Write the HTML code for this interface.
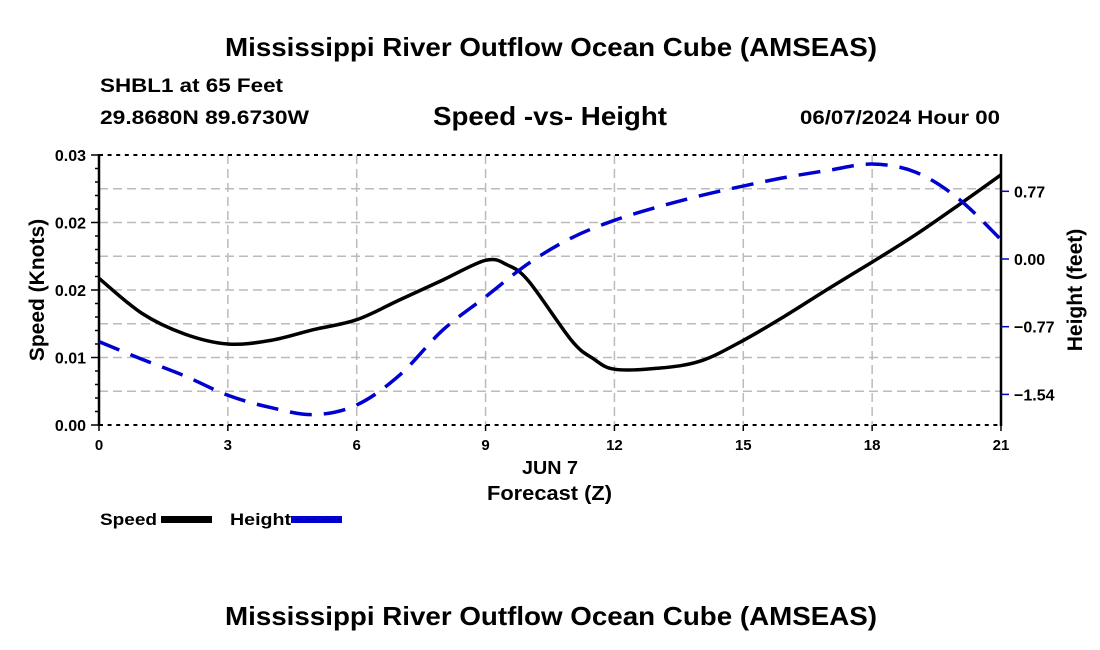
<!DOCTYPE html>
<html><head><meta charset="utf-8"><style>
html,body{margin:0;padding:0;background:#fff;}
svg{display:block;font-family:"Liberation Sans",sans-serif;font-weight:bold;}
</style></head><body>
<svg id="chart" width="1100" height="650" viewBox="0 0 1100 650">
<text x="225" y="56" font-size="26" textLength="652" lengthAdjust="spacingAndGlyphs">Mississippi River Outflow Ocean Cube (AMSEAS)</text>
<text x="100" y="92" font-size="19" textLength="183" lengthAdjust="spacingAndGlyphs">SHBL1 at 65 Feet</text>
<text x="100" y="124" font-size="19" textLength="209" lengthAdjust="spacingAndGlyphs">29.8680N  89.6730W</text>
<text x="433" y="125" font-size="26" textLength="234" lengthAdjust="spacingAndGlyphs">Speed -vs- Height</text>
<text x="800" y="124" font-size="19" textLength="200" lengthAdjust="spacingAndGlyphs">06/07/2024 Hour 00</text>
<g id="grid"></g>
<g id="axes"></g>
<g id="series"></g>
<text x="522" y="474" font-size="18" textLength="56" lengthAdjust="spacingAndGlyphs">JUN 7</text>
<text x="487" y="500" font-size="20" textLength="125" lengthAdjust="spacingAndGlyphs">Forecast (Z)</text>
<text transform="translate(44,290) rotate(-90)" font-size="21" text-anchor="middle">Speed (Knots)</text>
<text transform="translate(1082,290) rotate(-90)" font-size="21" text-anchor="middle">Height (feet)</text>
<g>
<text x="100" y="525" font-size="17" textLength="57" lengthAdjust="spacingAndGlyphs">Speed</text>
<rect x="161" y="516" width="51" height="7" fill="#000"/>
<text x="230" y="525" font-size="17" textLength="61" lengthAdjust="spacingAndGlyphs">Height</text>
<rect x="291" y="516" width="51" height="7" fill="#0000d0"/>
<line x1="292" y1="519.5" x2="341" y2="519.5" stroke="#000" stroke-width="1" stroke-dasharray="9,6"/>
</g>
<text x="225" y="625" font-size="26" textLength="652" lengthAdjust="spacingAndGlyphs">Mississippi River Outflow Ocean Cube (AMSEAS)</text>
</svg>
<script>
const hours = [0,1,2,3,4,5,6,7,8,9,9.5,10,11,11.5,12,13,14,15,16,17,18,19,20,21];
const speed = [0.0163,0.0124,0.0101,0.0090,0.0094,0.0106,0.0117,0.0139,0.0161,0.0183,0.0178,0.0160,0.0094,0.0074,0.0062,0.0063,0.0071,0.0094,0.0122,0.0152,0.0181,0.0211,0.0244,0.0278];
const hHours = [0,1,2,3,4,5,6,7,8,9,10,11,12,13,14,15,16,17,18,19,20,21];
const height = [-0.94,-1.14,-1.33,-1.55,-1.69,-1.77,-1.66,-1.32,-0.81,-0.43,-0.05,0.24,0.44,0.59,0.72,0.83,0.93,1.01,1.08,0.99,0.69,0.22];
const xTicks = [0,3,6,9,12,15,18,21];
const leftTicks = [0,0.0075,0.015,0.0225,0.03];
const leftTickLabels = ["0.00","0.01","0.02","0.02","0.03"];
const rightTicks = [-1.54,-0.77,0,0.77];
const rightTickLabels = ["\u22121.54","\u22120.77","0.00","0.77"];

const X0=99,X1=1001,Y0=425,Y1=155;
const xs=h=>X0+(h-0)/(21-0)*(X1-X0);
const ys=v=>Y0-(v-0)/(0.03)*(Y0-Y1);
const hPx=67.7/0.77;
const yh=v=>259-v*hPx;
const NS='http://www.w3.org/2000/svg';
function mk(tag,attrs,parent){const e=document.createElementNS(NS,tag);for(const k in attrs)e.setAttribute(k,attrs[k]);parent.appendChild(e);return e;}
function smooth(P){let d='M'+P[0][0]+','+P[0][1];
 for(let i=0;i<P.length-1;i++){const p0=P[Math.max(0,i-1)],p1=P[i],p2=P[i+1],p3=P[Math.min(P.length-1,i+2)];
 d+=' C'+(p1[0]+(p2[0]-p0[0])/6)+','+(p1[1]+(p2[1]-p0[1])/6)+' '+(p2[0]-(p3[0]-p1[0])/6)+','+(p2[1]-(p3[1]-p1[1])/6)+' '+p2[0]+','+p2[1];}
 return d;}
const grid=document.getElementById('grid'),axes=document.getElementById('axes'),series=document.getElementById('series');

for(let i=1;i<8;i++){const y=Y0-i*(Y0-Y1)/8;
 const l=mk('line',{x1:X0,x2:X1,y1:y,y2:y,stroke:'#bbb','stroke-width':1.5,'stroke-dasharray':'9,5'},grid);
 
 }
xTicks.forEach(t=>{const x=xs(t);
 if(t>0&&t<21){const l=mk('line',{x1:x,x2:x,y1:Y1,y2:Y0,stroke:'#bbb','stroke-width':1.5,'stroke-dasharray':'9,5'},grid);
 
 }
 const tk=mk('line',{x1:x,x2:x,y1:Y0,y2:Y0+6,stroke:'#000','stroke-width':1.5},axes);
 
 
 const tx=mk('text',{x:x,y:Y0+25,'font-size':15,'text-anchor':'middle'},axes);tx.textContent=t;
 
 });
[Y0,Y1].forEach(y=>{const b=mk('line',{x1:X0,x2:X1,y1:y,y2:y,stroke:'#000','stroke-width':2,'stroke-dasharray':'4,4.6'},axes);
 
 });
[X0,X1].forEach(x=>{const b=mk('line',{x1:x,x2:x,y1:Y1-1,y2:Y0+1,stroke:'#000','stroke-width':2.5},axes);
 
 });
for(let i=0;i<=20;i++){const y=Y0-i*(Y0-Y1)/20;
 const m=mk('line',{x1:X0-(i%5==0?8:4),x2:X0,y1:y,y2:y,stroke:'#000','stroke-width':1.5},axes);
 
 }
leftTicks.forEach((v,i)=>{const t=mk('text',{x:X0-13,y:ys(v)+6,'font-size':16,'text-anchor':'end'},axes);t.textContent=leftTickLabels[i];
 
 });
rightTicks.forEach((v,i)=>{const y=yh(v);
 const m=mk('line',{x1:X1,x2:X1+8,y1:y,y2:y,stroke:'#0000d0','stroke-width':1.5},axes);
 
 
 const t=mk('text',{x:1014,y:y+6,'font-size':16},axes);t.textContent=rightTickLabels[i];
 
 });

const sp=mk('path',{d:smooth(hours.map((h,i)=>[xs(h),ys(speed[i])])),fill:'none',stroke:'#000','stroke-width':3.5,'stroke-linejoin':'round'},series);


const hl=mk('path',{d:smooth(hHours.map((h,i)=>[xs(h),yh(height[i])])),fill:'none',stroke:'#0000d0','stroke-width':3.5,'stroke-dasharray':'22,12'},series);


</script>
</body></html>
